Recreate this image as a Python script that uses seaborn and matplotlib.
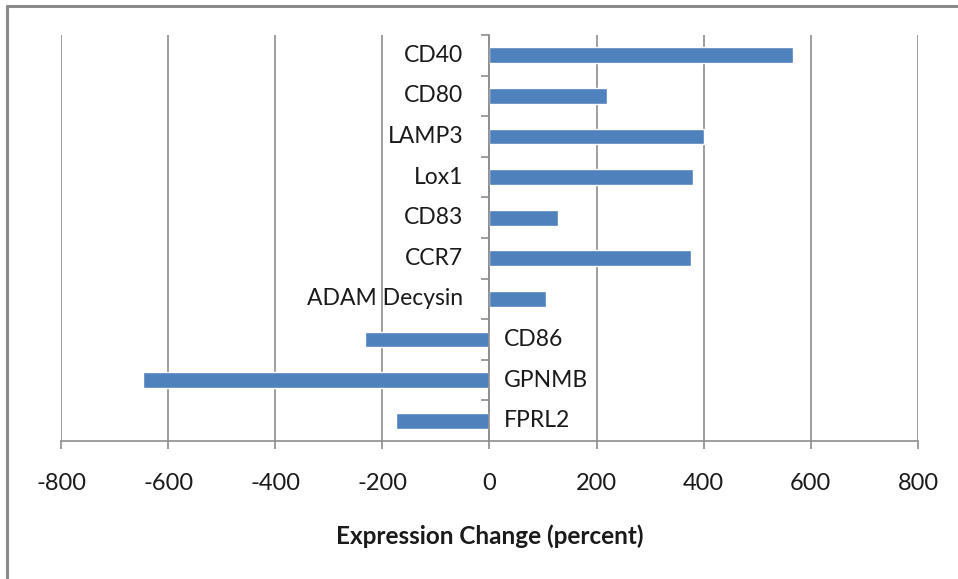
import matplotlib
matplotlib.use("Agg")
import matplotlib.pyplot as plt
import seaborn as sns
import pandas as pd

# Expression change per gene, in percent
genes = ["CD40", "CD80", "LAMP3", "Lox1", "CD83", "CCR7",
         "ADAM Decysin", "CD86", "GPNMB", "FPRL2"]
change = [567, 220, 400, 380, 127, 376, 106, -233, -647, -174]
x_ticks = [-800, -600, -400, -200, 0, 200, 400, 600, 800]
x_label = "Expression Change (percent)"

sns.set_theme(style="white")
plt.rcParams["font.family"] = ["Lato", "DejaVu Sans"]

bar_color = "#4f81bd"
grid_color = "#8c8c8c"
text_color = "#1a1a1a"

df = pd.DataFrame({"gene": genes, "change": change})

fig = plt.figure(figsize=(9.58, 5.79), dpi=100)
ax = fig.add_axes([0.0637, 0.2383, 0.8945, 0.7013])

sns.barplot(data=df, x="change", y="gene", orient="h", color=bar_color,
            width=0.39, saturation=1, ax=ax, order=genes)

ax.set_xlim(-800, 800)
ax.set_ylim(len(genes) - 0.5, -0.5)

# vertical gridlines
ax.set_xticks(x_ticks)
ax.set_xticklabels([str(v) for v in x_ticks], fontsize=17, color=text_color)
ax.xaxis.grid(True, color=grid_color, linewidth=1.2)
ax.set_axisbelow(True)

# category axis sits at zero, ticks mark category boundaries
bounds = [i - 0.5 for i in range(len(genes))]
ax.set_yticks(bounds)
ax.set_yticklabels([])
ax.spines["left"].set_position(("data", 0))
for side in ("top", "right"):
    ax.spines[side].set_visible(False)
for side in ("left", "bottom"):
    ax.spines[side].set_color(grid_color)
    ax.spines[side].set_linewidth(1.2)
ax.tick_params(axis="y", left=True, length=6, width=1.2, color=grid_color)
ax.tick_params(axis="x", bottom=True, length=6, width=1.2, color=grid_color, pad=17)

ax.set_xlabel(x_label, fontsize=17.5, fontweight="bold", color=text_color, labelpad=22)
ax.set_ylabel("")

# gene names beside the zero axis
for i, (g, v) in enumerate(zip(genes, change)):
    if v >= 0:
        ax.annotate(g, xy=(0, i), xytext=(-26, 0), textcoords="offset pixels",
                    ha="right", va="center", fontsize=16.5, color=text_color)
    else:
        ax.annotate(g, xy=(0, i), xytext=(14, 0), textcoords="offset pixels",
                    ha="left", va="center", fontsize=16.5, color=text_color)

# chart frame (left and top edges)
fig.add_artist(plt.Line2D([7 / 958, 7 / 958], [0, 1 - 6 / 579],
                          transform=fig.transFigure, color="#8a8a8a", linewidth=2.2))
fig.add_artist(plt.Line2D([7 / 958, 1], [1 - 6 / 579, 1 - 6 / 579],
                          transform=fig.transFigure, color="#8a8a8a", linewidth=2.2))

fig.savefig("out.png", dpi=100)
